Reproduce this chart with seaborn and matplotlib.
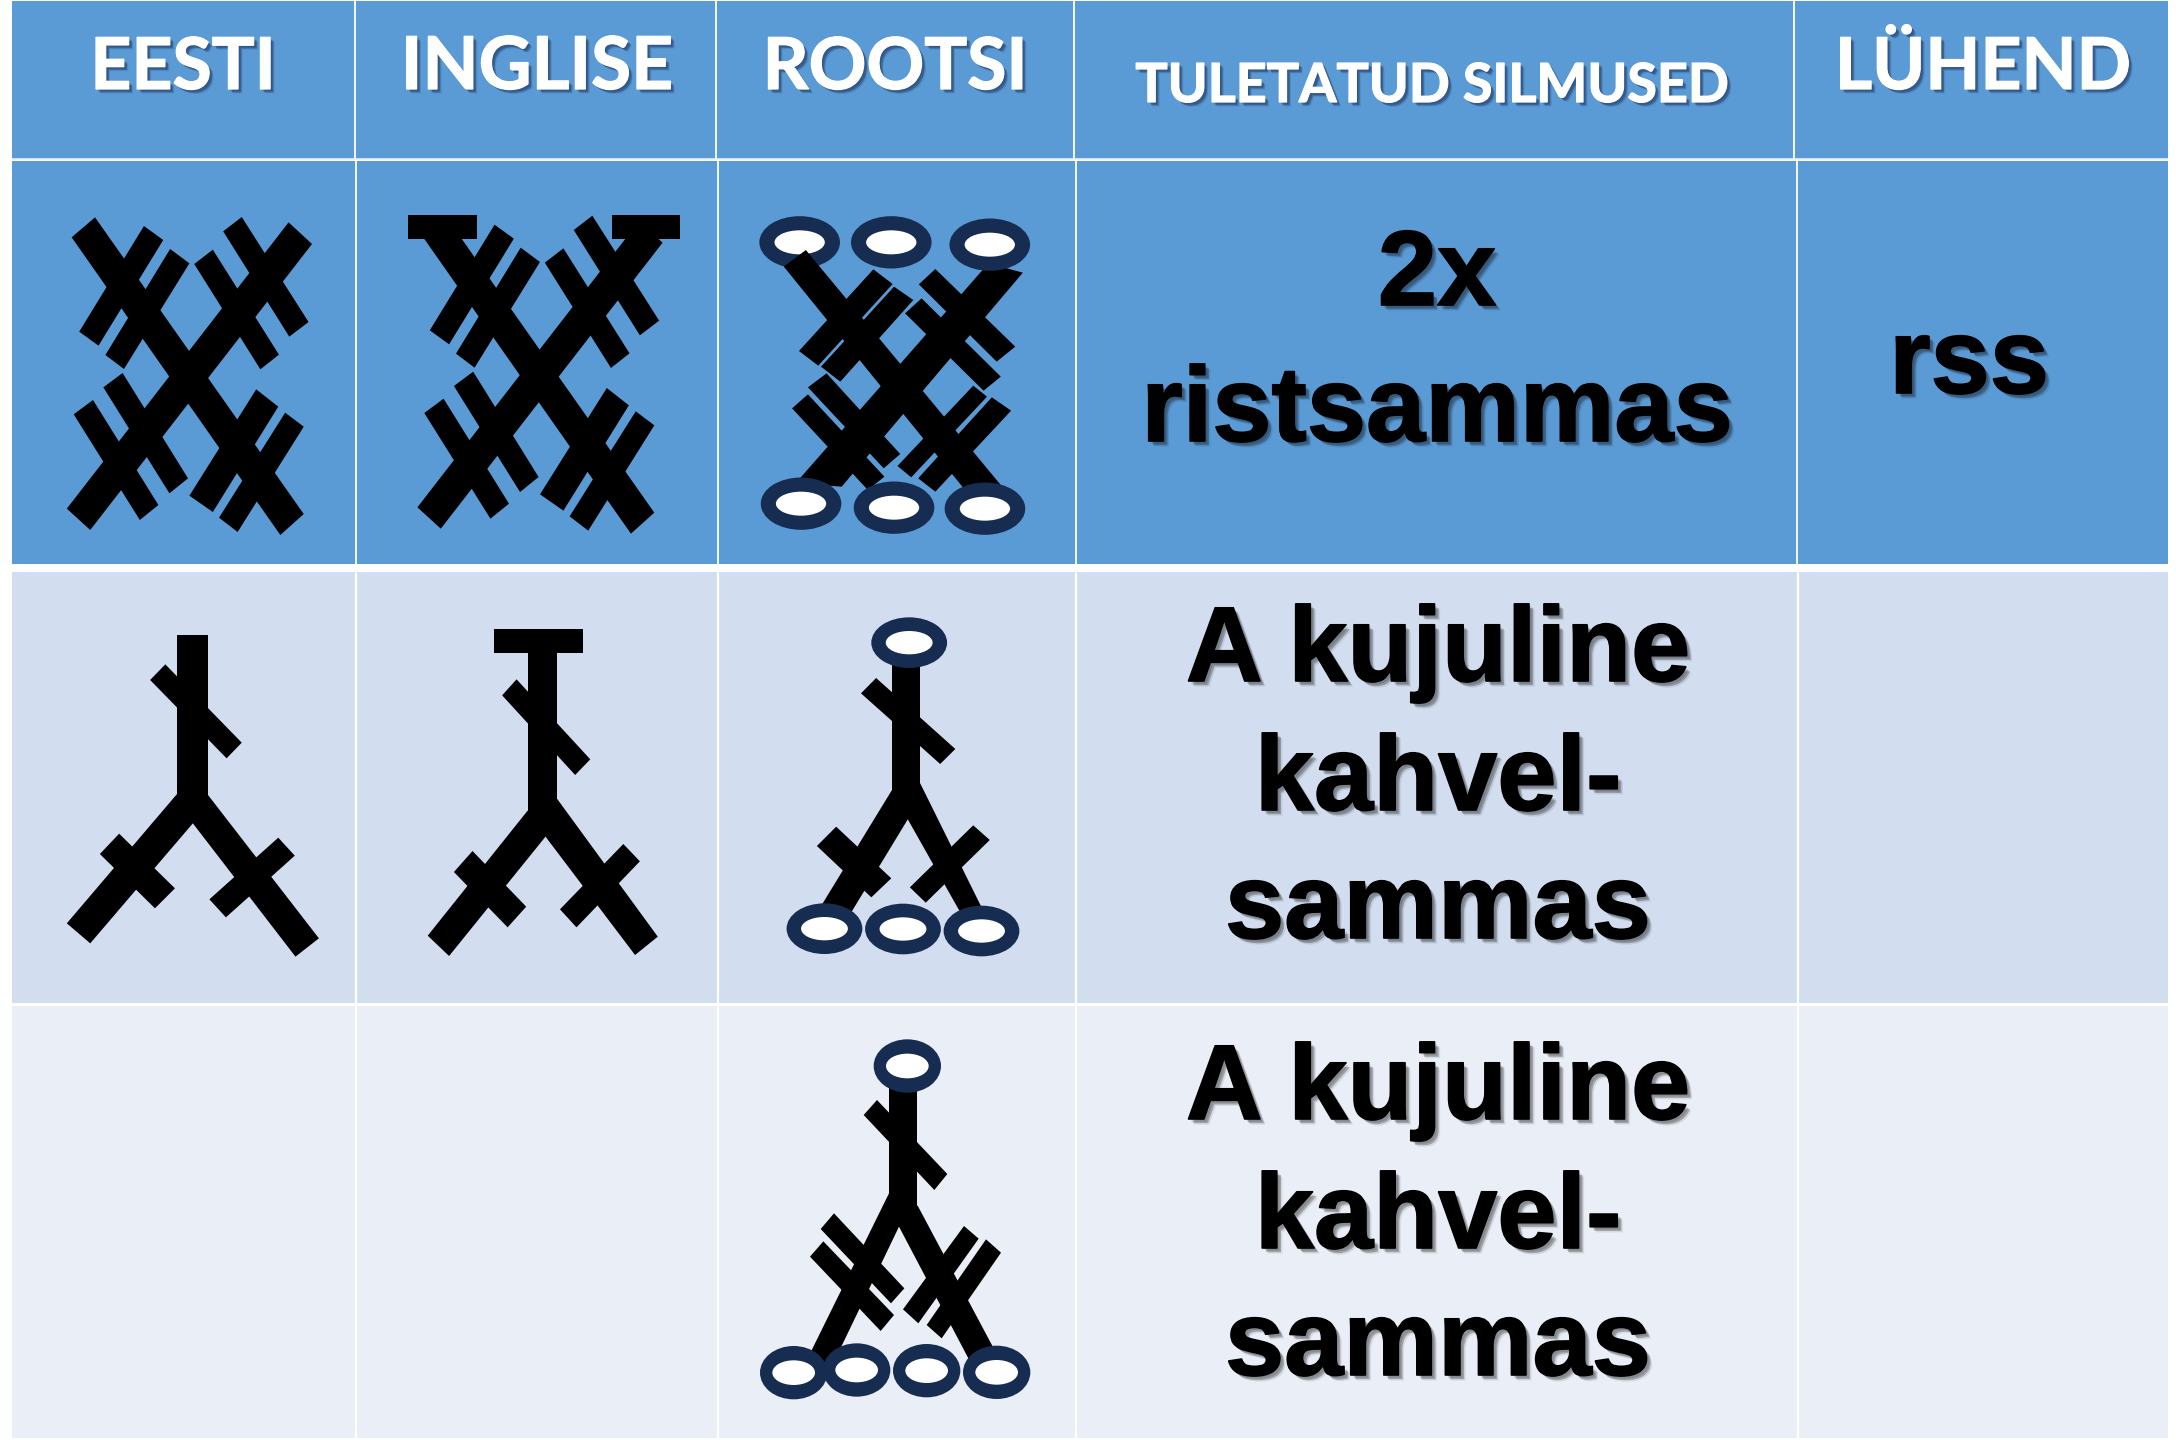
import numpy as np
import matplotlib
matplotlib.use("Agg")
import matplotlib.pyplot as plt
import matplotlib.patheffects as pe
from matplotlib.colors import ListedColormap
from matplotlib.patches import Polygon, Ellipse
import seaborn as sns

# ---------- table content ----------
headers = ["EESTI", "INGLISE", "ROOTSI", "TULETATUD SILMUSED", "LÜHEND"]
row1_name = ["2x", "ristsammas"]
row1_abbr = "rss"
row2_name = ["A kujuline", "kahvel-", "sammas"]
row3_name = ["A kujuline", "kahvel-", "sammas"]

cell_colors = ["#FFFFFF", "#5B9BD5", "#D2DEEF", "#EAEFF7"]
row_levels = [0, 1, 0, 1, 0, 2, 0, 3, 0]
col_mask = [0, 1, 1, 1, 1, 1, 0]
row_heights = [1, 158, 2, 403, 8, 431, 3, 432, 2]
col_widths = [12, 343, 362, 357, 721, 373, 8]

DARK = "#172C51"

# ---------- crochet symbols (quads) ----------
X_DOUBLE = [
    [(138,202),(104,262),(407,1155),(441,1092)],
    [(419,217),(453,282),(131,1140),(97,1076)],
    [(209,228),(237,270),(143,587),(115,545)],
    [(247,297),(275,340),(180,657),(153,615)],
    [(351,201),(324,244),(420,560),(448,516)],
    [(309,299),(282,342),(378,658),(405,614)],
    [(178,669),(150,712),(246,1030),(273,985)],
    [(135,750),(107,793),(203,1110),(230,1065)],
    [(372,718),(404,770),(309,1086),(275,1037)],
    [(414,788),(441,830),(345,1146),(318,1103)],
]
INGLISE_RECTS = [[(592,195),(693,195),(693,267),(592,267)],
                 [(889,195),(987,195),(987,267),(889,267)]]
ROOTSI_X = [
    [(1170,300),(1138,350),(1405,1030),(1455,1010)],
    [(1435,340),(1485,368),(1222,1010),(1155,1000)],
    [(1268,358),(1296,402),(1188,647),(1160,603)],
    [(1298,410),(1326,450),(1220,695),(1192,650)],
    [(1358,357),(1334,403),(1447,635),(1474,590)],
    [(1338,445),(1314,490),(1428,722),(1453,680)],
    [(1200,670),(1173,712),(1283,955),(1307,912)],
    [(1173,733),(1150,775),(1260,1020),(1284,980)],
    [(1413,707),(1433,740),(1323,982),(1303,948)],
    [(1440,742),(1468,782),(1358,1025),(1333,985)],
]
ROOTSI_X_RINGS = [(1294,277),(1437,284),(1163,1061),(1298,1073),(1430,1076)]
ROOTSI_X_RING_UNDER = (1161,277)

R2_EESTI = [
    [(257,195),(302,195),(302,700),(257,700)],
    [(240,283),(218,330),(329,565),(351,518)],
    [(257,672),(302,680),(280,760),(131,1120),(97,1060)],
    [(280,760),(257,690),(302,675),(463,1105),(429,1160)],
    [(173,791),(145,852),(225,1015),(254,955)],
    [(404,803),(428,857),(328,1042),(304,988)],
]
R2_INGLISE = [
    [(717,177),(847,177),(847,250),(717,250)],
    [(766,250),(809,250),(809,740),(766,740)],
    [(750,328),(729,376),(835,615),(857,568)],
    [(766,722),(809,700),(792,800),(652,1158),(621,1097)],
    [(792,800),(766,730),(809,687),(955,1100),(922,1155)],
    [(686,843),(659,906),(737,1072),(764,1010)],
    [(905,822),(929,874),(837,1072),(813,1018)],
]
R2_ROOTSI = [
    [(1295,268),(1336,268),(1336,670),(1295,670)],
    [(1272,324),(1250,370),(1365,582),(1387,537)],
    [(1295,660),(1336,650),(1318,748),(1235,1030),(1190,1015)],
    [(1318,748),(1295,670),(1336,640),(1427,1020),(1395,1030)],
    [(1214,770),(1186,828),(1265,982),(1294,925)],
    [(1413,766),(1437,810),(1344,998),(1321,952)],
]
R2_RINGS = [(1320,218),(1197,1076),(1311,1077),(1425,1083)]

R3_ROOTSI = [
    [(567,260),(651,260),(651,625),(567,625)],
    [(531,300),(491,345),(703,570),(742,522)],
    [(567,580),(640,620),(597,680),(395,1100),(318,1085)],
    [(597,680),(580,610),(653,617),(905,1090),(813,1090)],
    [(402,640),(362,687),(573,910),(613,865)],
    [(370,724),(330,770),(542,993),(582,945)],
    [(792,678),(836,716),(655,970),(609,928)],
    [(858,718),(903,758),(725,1015),(680,975)],
]
R3_RINGS = [(622,198),(890,1117),(680,1112),(281,1118),(470,1110)]

# ---------- figure ----------
sns.set_theme(style="white")
fig = plt.figure(figsize=(21.76, 14.4), dpi=100, facecolor="white")
ax = fig.add_axes([0, 0, 1, 1])

levels = np.outer(row_levels, col_mask)
grid = np.repeat(np.repeat(levels, row_heights, axis=0), col_widths, axis=1)
sns.heatmap(grid, ax=ax, cmap=ListedColormap(cell_colors), vmin=0, vmax=3,
            cbar=False, xticklabels=False, yticklabels=False)

# cell separators
ax.vlines([354.5, 716, 1073.5, 1794], 1, 159, color="white", lw=1.3)
ax.vlines([355.5, 717.5, 1075.5, 1797], 161, 564, color="white", lw=1.3)
ax.vlines([355.5, 717.5, 1076, 1798], 572, 1438, color="white", lw=1.6)
ax.hlines(159, 12, 2168, color="#E8F0F9", lw=1.2)


def quad(points, sx, sy, ox, oy, z=3):
    pts = [(x / sx + ox, y / sy + oy) for x, y in points]
    ax.add_patch(Polygon(pts, closed=True, fc="black", ec="none", zorder=z))


def ring(c, sx, sy, ox, oy, w, h, iw, ih, z=4):
    xy = (c[0] / sx + ox, c[1] / sy + oy)
    ax.add_patch(Ellipse(xy, w / sx, h / sy, fc=DARK, ec="none", zorder=z))
    ax.add_patch(Ellipse(xy, iw / sx, ih / sy, fc="white", ec="none", zorder=z))


S1 = (1568 / 1080, 3, 0, 150)
S2 = (1568 / 1080, 3, 0, 570)
S3 = (3, 3, 700, 1000)

for q in X_DOUBLE:
    quad(q, *S1)
for q in X_DOUBLE:
    quad([(x + 509, y - 4) for x, y in q], *S1)
for q in INGLISE_RECTS:
    quad(q, *S1)
ring(ROOTSI_X_RING_UNDER, *S1, 117, 157, 73, 72, z=2.5)
for q in ROOTSI_X:
    quad(q, *S1)
for c in ROOTSI_X_RINGS:
    ring(c, *S1, 117, 157, 73, 72)

for q in R2_EESTI + R2_INGLISE + R2_ROOTSI:
    quad(q, *S2)
for c in R2_RINGS:
    ring(c, *S2, 110, 152, 68, 70)

for q in R3_ROOTSI:
    quad(q, *S3)
for c in R3_RINGS:
    ring(c, *S3, 202, 160, 128, 74)


# ---------- text ----------
def soft_shadow(color, dx, alpha, stroke_color, stroke_w):
    fx = []
    for k, a in ((1.35, 0.35), (1.0, 1.0), (0.65, 0.6)):
        fx.append(pe.withSimplePatchShadow(offset=(dx * k, -dx * k),
                                           shadow_rgbFace=color, alpha=alpha * a))
    fx.append(pe.Stroke(linewidth=stroke_w, foreground=stroke_color))
    fx.append(pe.Normal())
    return fx


hdr_fx = soft_shadow("#1F3864", 2.4, 0.45, "white", 0.9)
body_fx = soft_shadow("#000000", 3.0, 0.25, "black", 1.2)


def header(s, x, y, size):
    ax.text(x, y, s, ha="center", va="baseline", color="white", fontsize=size,
            family="Lato", fontweight="bold", path_effects=hdr_fx, zorder=6)


def body(s, x, y):
    ax.text(x, y, s, ha="center", va="baseline", color="black", fontsize=76.6,
            family="Liberation Sans", fontweight="bold", path_effects=body_fx, zorder=6)


for s, x, y, size in zip(headers, [183, 537, 895, 1432, 1983], [89, 89, 89, 102, 89],
                         [51.5, 52.5, 51.5, 38.8, 51.5]):
    header(s, x, y, size)

for s, y in zip(row1_name, [305, 441]):
    body(s, 1437, y)
body(row1_abbr, 1969, 393)
for s, y in zip(row2_name, [681, 810, 938]):
    body(s, 1438, y)
for s, y in zip(row3_name, [1119, 1248, 1375]):
    body(s, 1438, y)

fig.savefig("out.png", dpi=100, facecolor="white")
